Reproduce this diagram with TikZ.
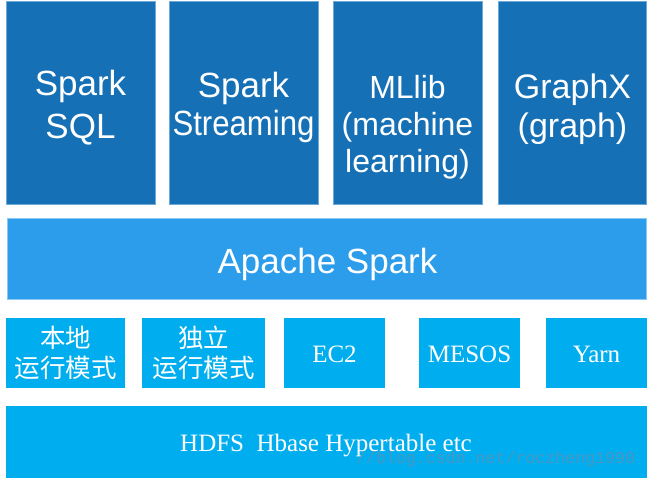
\documentclass[tikz,border=0pt]{standalone}
\usepackage{fontspec}
\setmainfont{Liberation Serif}
\newfontfamily\arialf{Liberation Sans}
\newfontfamily\cjk{Noto Sans CJK SC}
\newfontfamily\monof{Liberation Mono}
\definecolor{darkblue}{RGB}{21,112,181}
\definecolor{darkedge}{RGB}{110,170,215}
\definecolor{midblue}{RGB}{43,157,235}
\definecolor{midedge}{RGB}{140,200,245}
\definecolor{cyanbox}{RGB}{0,174,239}
\definecolor{wmark}{RGB}{75,150,195}
\begin{document}
\begin{tikzpicture}[x=1pt,y=-1pt,
  topbox/.style={rectangle, fill=darkblue, draw=darkedge, line width=0.6pt, inner sep=0pt, minimum width=149pt, minimum height=203pt},
  sparkbar/.style={rectangle, fill=midblue, draw=midedge, line width=0.6pt, inner sep=0pt},
  smallbox/.style={rectangle, fill=cyanbox, inner sep=0pt, minimum height=70pt},
  toptext/.style={text=white, align=center, inner sep=0pt, anchor=north},
  cjktext/.style={text=white, align=center, inner sep=0pt, font=\cjk\fontsize{25.5pt}{30pt}\selectfont},
  serifext/.style={text=white, inner sep=0pt, anchor=base, font=\fontsize{25pt}{30pt}\selectfont}
]
\useasboundingbox (0,0) rectangle (647,478);
\fill[white] (0,0) rectangle (647,478);

% top row
\node[topbox] (sql) at (80.5,102.5) {};
\node[topbox] (stream) at (243.5,102.5) {};
\node[topbox] (mllib) at (407.5,102.5) {};
\node[topbox, minimum width=148pt] (graphx) at (572.5,102.5) {};

\node[toptext, font=\arialf\fontsize{35pt}{43pt}\selectfont] (sqlt) at (80.5,70) {Spark\\SQL};
\node[toptext, font=\arialf\fontsize{35pt}{38pt}\selectfont] (streamt) at (243.5,72) {Spark\\\scalebox{0.89}[1]{Streaming}};
\node[toptext, font=\arialf\fontsize{32pt}{37pt}\selectfont] (mllibt) at (407.5,75) {MLlib\\(machine\\learning)};
\node[toptext, font=\arialf\fontsize{34pt}{39pt}\selectfont] (graphxt) at (572.5,74) {GraphX\\(graph)};

% Apache Spark bar
\node[sparkbar, minimum width=639pt, minimum height=81pt] (spark) at (326.5,258.5) {};
\node[text=white, inner sep=0pt, anchor=base, font=\arialf\fontsize{35pt}{40pt}\selectfont] (sparkt) at (327.5,273) {Apache Spark};

% deployment modes
\node[smallbox, minimum width=119pt] (local) at (65.5,353) {};
\node[smallbox, minimum width=123pt] (standalone) at (203.5,353) {};
\node[smallbox, minimum width=101pt] (ec2) at (334.5,353) {};
\node[smallbox, minimum width=101pt] (mesos) at (469.5,353) {};
\node[smallbox, minimum width=101pt] (yarn) at (596.5,353) {};

\node[cjktext] (localt) at (65.5,353) {本地\\运行模式};
\node[cjktext] (standalonet) at (203.5,353) {独立\\运行模式};
\node[serifext] (ec2t) at (334.5,362) {EC2};
\node[serifext] (mesost) at (469.5,362) {MESOS};
\node[serifext] (yarnt) at (596.5,362) {Yarn};

% storage bar
\node[smallbox, minimum width=641pt, minimum height=72pt] (hdfs) at (326.5,442) {};
\node[serifext] (hdfst) at (326,451) {HDFS\ \ Hbase Hypertable etc};

% watermark
\node[text=wmark, inner sep=0pt, anchor=base west, font=\monof\fontsize{16.6pt}{18pt}\selectfont] (wm) at (356,463) {//blog.csdn.net/roczheng1990};
\end{tikzpicture}
\end{document}
